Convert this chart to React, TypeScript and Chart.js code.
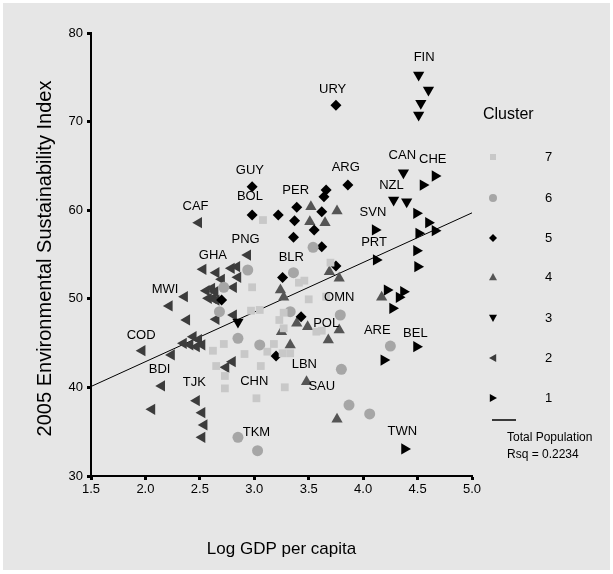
import React, { useEffect, useRef } from 'react';
import { Chart, registerables } from 'chart.js';

Chart.register(...registerables);

// ---- data (Log GDP per capita, ESI 2005) ----
const cluster7: [number, number][] = [
  [3.08, 58.89], [2.98, 51.3], [2.97, 48.66], [3.05, 48.74], [3.23, 47.61], [3.27, 46.67],
  [3.41, 51.82], [3.46, 52.05], [3.5, 49.94], [3.66, 50.24], [3.57, 46.29], [3.62, 46.4],
  [2.62, 44.14], [2.72, 44.9], [2.91, 43.77], [3.12, 44.03], [3.18, 44.9], [2.65, 42.41],
  [3.06, 42.41], [2.73, 41.29], [3.28, 40.01], [2.73, 39.89], [3.02, 38.77], [3.7, 54.08],
  [3.27, 48.43], [3.26, 43.85], [3.33, 43.85],
];
const cluster6: [number, number][] = [
  [2.94, 53.25], [2.72, 51.3], [2.68, 48.54], [2.85, 45.54], [3.05, 44.79], [3.33, 48.54],
  [3.54, 55.81], [3.36, 52.95], [3.79, 48.17], [4.25, 44.67], [3.8, 42.04], [3.87, 38.01],
  [4.06, 37.0], [2.85, 34.37], [3.03, 32.86],
];
const cluster5: [number, number][] = [
  [3.75, 71.84], [3.86, 62.84], [3.66, 62.28], [3.64, 61.52], [3.39, 60.33], [3.62, 59.83],
  [2.98, 62.65], [2.98, 59.46], [3.22, 59.46], [3.37, 58.81], [3.55, 57.77], [3.36, 56.94],
  [3.62, 55.88], [3.75, 53.7], [3.43, 47.98], [2.7, 49.86], [3.2, 43.55], [3.26, 52.4],
];
const cluster4: [number, number][] = [
  [3.52, 60.4], [3.76, 59.91], [3.51, 58.7], [3.65, 58.59], [3.69, 53.06], [3.78, 52.31],
  [3.27, 50.17], [3.24, 51.0], [4.17, 50.17], [3.39, 47.23], [3.49, 46.85], [3.78, 46.48],
  [3.68, 45.35], [3.33, 44.79], [3.48, 40.64], [3.76, 36.4], [3.25, 46.29],
];
const cluster3: [number, number][] = [
  [4.51, 75.26], [4.6, 73.57], [4.53, 72.07], [4.51, 70.75], [4.37, 64.23], [4.28, 61.15],
  [4.4, 60.96], [2.85, 47.38],
];
const cluster2: [number, number][] = [
  [2.49, 58.59], [2.94, 54.94], [2.53, 53.33], [2.65, 52.95], [2.79, 53.44], [2.84, 53.62],
  [2.85, 52.43], [2.7, 52.2], [2.81, 51.3], [2.56, 50.92], [2.61, 51.19], [2.64, 50.8],
  [2.58, 50.05], [2.62, 50.05], [2.65, 49.86], [2.36, 50.24], [2.22, 49.19], [2.38, 47.61],
  [2.65, 47.69], [2.81, 48.17], [2.44, 45.72], [2.49, 45.4], [2.35, 44.98], [2.41, 44.8],
  [2.47, 44.6], [2.52, 44.8], [1.97, 44.14], [2.24, 43.66], [2.15, 40.16], [2.06, 37.53],
  [2.47, 38.5], [2.52, 37.15], [2.54, 35.76], [2.52, 34.37], [2.74, 42.27], [2.8, 42.9],
];
const cluster1: [number, number][] = [
  [4.66, 63.86], [4.55, 62.84], [4.49, 59.65], [4.6, 58.59], [4.51, 57.39], [4.66, 57.69],
  [4.49, 55.43], [4.5, 53.62], [4.11, 57.77], [4.12, 54.38], [4.22, 50.99], [4.37, 50.8],
  [4.33, 50.17], [4.27, 48.93], [4.49, 44.59], [4.19, 43.09], [4.38, 33.05],
];
const fitLine: [number, number][] = [[1.5, 40.1], [5.0, 59.7]];

const xTicks = [1.5, 2.0, 2.5, 3.0, 3.5, 4.0, 4.5, 5.0];
const yTicks = [30, 40, 50, 60, 70, 80];

const countryCodes = ['FIN', 'URY', 'CAN', 'CHE', 'NZL', 'ARG', 'GUY', 'BOL', 'PER', 'CAF', 'SVN', 'PNG', 'PRT', 'GHA', 'BLR', 'MWI', 'OMN', 'POL', 'ARE', 'BEL', 'COD', 'BDI', 'LBN', 'TJK', 'CHN', 'SAU', 'TKM', 'TWN'];
const countryX = [4.56, 3.72, 4.36, 4.64, 4.26, 3.84, 2.96, 2.96, 3.38, 2.46, 4.09, 2.92, 4.1, 2.62, 3.34, 2.18, 3.78, 3.66, 4.13, 4.48, 1.96, 2.13, 3.46, 2.45, 3.0, 3.62, 3.02, 4.36];
const countryY = [77.29, 73.68, 66.23, 65.78, 62.84, 64.88, 64.54, 61.6, 62.28, 60.47, 59.8, 56.75, 56.41, 54.94, 54.72, 51.1, 50.2, 47.27, 46.48, 46.14, 45.91, 42.08, 42.64, 40.61, 40.72, 40.16, 34.97, 35.08];

const clusterLabels = ['7', '6', '5', '4', '3', '2', '1'];
const clusterData = [cluster7, cluster6, cluster5, cluster4, cluster3, cluster2, cluster1];
const clusterColors = ['#c8c8c8', '#a6a6a6', '#000000', '#555555', '#000000', '#3c3c3c', '#000000'];
const clusterStyles = ['rect', 'circle', 'rectRot', 'triangle', 'triangle', 'triangle', 'triangle'];
const clusterRotation = [0, 0, 0, 0, 180, 270, 90];
const clusterRadius = [5.5, 5.5, 5.5, 6.5, 6.5, 6.5, 6.5];

const FONT = 'Arial, "Liberation Sans", sans-serif';

function drawSymbol(ctx: CanvasRenderingContext2D, kind: number, x: number, y: number) {
  ctx.save();
  ctx.fillStyle = clusterColors[kind];
  ctx.beginPath();
  const s = 4;
  if (kind === 0) {
    ctx.rect(x - 3, y - 3, 6, 6);
  } else if (kind === 1) {
    ctx.arc(x, y, 4, 0, Math.PI * 2);
  } else if (kind === 2) {
    ctx.moveTo(x, y - s); ctx.lineTo(x + s, y); ctx.lineTo(x, y + s); ctx.lineTo(x - s, y);
  } else if (kind === 3) {
    ctx.moveTo(x, y - s); ctx.lineTo(x + s, y + s * 0.8); ctx.lineTo(x - s, y + s * 0.8);
  } else if (kind === 4) {
    ctx.moveTo(x, y + s); ctx.lineTo(x + s, y - s * 0.8); ctx.lineTo(x - s, y - s * 0.8);
  } else if (kind === 5) {
    ctx.moveTo(x - s, y); ctx.lineTo(x + s * 0.8, y - s); ctx.lineTo(x + s * 0.8, y + s);
  } else {
    ctx.moveTo(x + s, y); ctx.lineTo(x - s * 0.8, y - s); ctx.lineTo(x - s * 0.8, y + s);
  }
  ctx.closePath();
  ctx.fill();
  ctx.restore();
}

const bgPlugin = {
  id: 'bg',
  beforeDraw(chart: any) {
    const ctx = chart.ctx;
    ctx.save();
    ctx.fillStyle = '#ffffff';
    ctx.fillRect(0, 0, chart.width, chart.height);
    ctx.fillStyle = '#e6e6e6';
    ctx.fillRect(3, 3, chart.width - 6, chart.height - 7);
    ctx.restore();
  },
};

const decorPlugin = {
  id: 'decor',
  afterDraw(chart: any) {
    const ctx: CanvasRenderingContext2D = chart.ctx;
    const xs = chart.scales.x;
    const ys = chart.scales.y;
    const area = chart.chartArea;
    ctx.save();
    // country labels
    ctx.fillStyle = '#000';
    ctx.font = `13px ${FONT}`;
    ctx.textAlign = 'center';
    ctx.textBaseline = 'middle';
    countryCodes.forEach((c, i) => {
      ctx.fillText(c, xs.getPixelForValue(countryX[i]), ys.getPixelForValue(countryY[i]));
    });
    // axis titles
    ctx.font = `17px ${FONT}`;
    ctx.fillText('Log GDP per capita', (area.left + area.right) / 2, 549);
    ctx.save();
    ctx.translate(45, (area.top + area.bottom) / 2 + 4);
    ctx.rotate(-Math.PI / 2);
    ctx.font = `20px ${FONT}`;
    ctx.fillText('2005 Environmental Sustainability Index', 0, 0);
    ctx.restore();
    // legend
    ctx.textAlign = 'left';
    ctx.font = `16px ${FONT}`;
    ctx.fillText('Cluster', 483, 115);
    const rowsY = [157, 198, 238, 277, 318, 358, 398];
    ctx.font = `13px ${FONT}`;
    clusterLabels.forEach((l, i) => {
      drawSymbol(ctx, i, 493, rowsY[i]);
      ctx.fillStyle = '#000';
      ctx.fillText(l, 545, rowsY[i]);
    });
    ctx.strokeStyle = '#000';
    ctx.lineWidth = 1.5;
    ctx.beginPath();
    ctx.moveTo(492, 420);
    ctx.lineTo(516, 420);
    ctx.stroke();
    ctx.font = `12px ${FONT}`;
    ctx.fillText('Total Population', 507, 438);
    ctx.fillText('Rsq = 0.2234', 507, 455);
    ctx.restore();
  },
};

export default function App() {
  const ref = useRef<HTMLCanvasElement | null>(null);
  useEffect(() => {
    document.body.style.margin = '0';
    if (!ref.current) return;
    const datasets: any[] = clusterData.map((d, i) => ({
      label: clusterLabels[i],
      data: d.map(([x, y]) => ({ x, y })),
      pointStyle: clusterStyles[i],
      rotation: clusterRotation[i],
      radius: clusterRadius[i],
      pointRadius: clusterRadius[i],
      backgroundColor: clusterColors[i],
      borderColor: clusterColors[i],
      borderWidth: 0,
      showLine: false,
    }));
    datasets.push({
      label: 'Total Population',
      data: fitLine.map(([x, y]) => ({ x, y })),
      showLine: true,
      borderColor: '#000',
      borderWidth: 1,
      pointRadius: 0,
      fill: false,
    });
    const tickFont = { family: FONT, size: 13 };
    const chart = new Chart(ref.current, {
      type: 'scatter',
      data: { datasets },
      options: {
        responsive: false,
        animation: false,
        layout: { padding: { left: 0, right: 141, top: 33, bottom: 0 } },
        plugins: { legend: { display: false }, tooltip: { enabled: false } },
        scales: {
          x: {
            type: 'linear',
            min: 1.5,
            max: 5.0,
            afterBuildTicks: (s: any) => { s.ticks = xTicks.map((v) => ({ value: v })); },
            afterFit: (s: any) => { s.height = 98; },
            ticks: {
              color: '#000',
              font: tickFont,
              padding: 2,
              autoSkip: false,
              maxRotation: 0,
              callback: (v: any) => Number(v).toFixed(1),
            },
            grid: { display: true, drawOnChartArea: false, drawTicks: true, tickLength: 4, tickColor: '#000', tickWidth: 3 },
            border: { display: true, color: '#000', width: 2 },
          },
          y: {
            type: 'linear',
            min: 30,
            max: 80,
            afterBuildTicks: (s: any) => { s.ticks = yTicks.map((v) => ({ value: v })); },
            afterFit: (s: any) => { s.width = 91; },
            ticks: { color: '#000', font: tickFont, padding: 4, autoSkip: false },
            grid: { display: true, drawOnChartArea: false, drawTicks: true, tickLength: 4, tickColor: '#000', tickWidth: 3 },
            border: { display: true, color: '#000', width: 2 },
          },
        },
      } as any,
      plugins: [bgPlugin, decorPlugin],
    });
    return () => chart.destroy();
  }, []);
  return <canvas ref={ref} width={613} height={574} style={{ display: 'block' }} />;
}
